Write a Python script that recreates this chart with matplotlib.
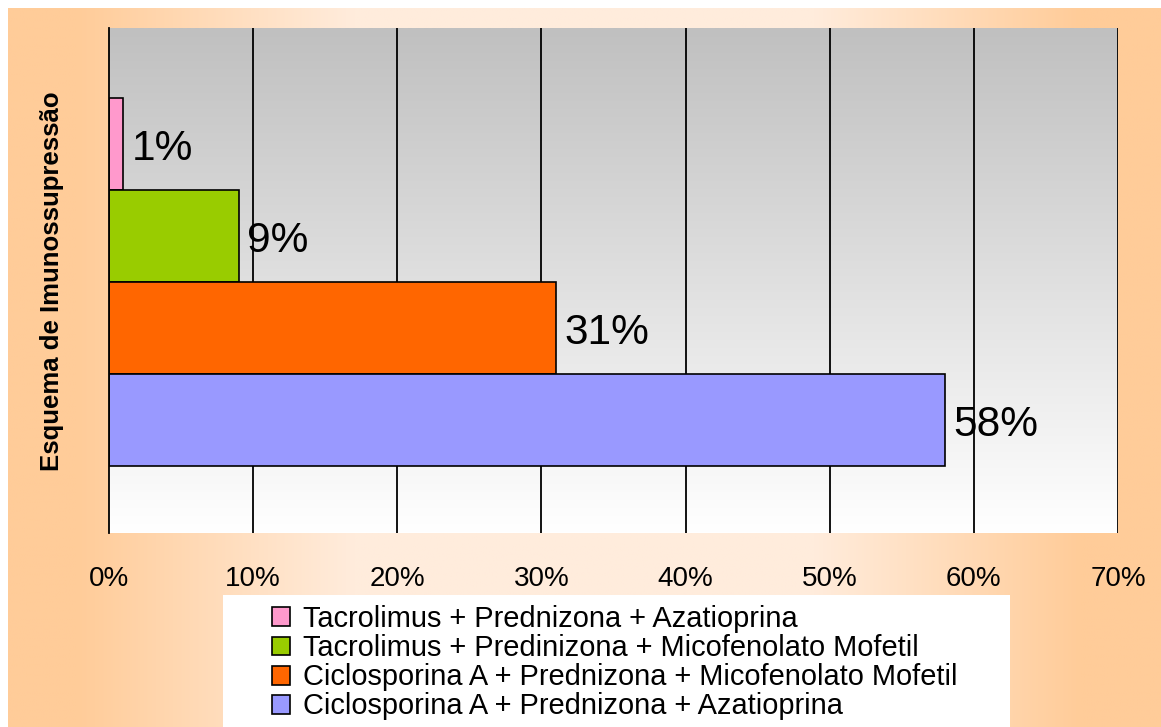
import numpy as np
import matplotlib
matplotlib.use("Agg")
import matplotlib.pyplot as plt
from matplotlib.patches import Rectangle

categories = ["Tacrolimus + Prednizona + Azatioprina",
              "Tacrolimus + Predinizona + Micofenolato Mofetil",
              "Ciclosporina A + Prednizona + Micofenolato Mofetil",
              "Ciclosporina A + Prednizona + Azatioprina"]
values = [1, 9, 31, 58]
labels = ["1%", "9%", "31%", "58%"]
colors = ["#FF99CC", "#99CC00", "#FF6600", "#9999FF"]
xticks = [0, 10, 20, 30, 40, 50, 60, 70]
xticklabels = ["0%", "10%", "20%", "30%", "40%", "50%", "60%", "70%"]
ylabel = "Esquema de Imunossupressão"

plt.rcParams['font.family'] = ['Liberation Sans', 'DejaVu Sans']

W, H = 1161, 727
fig = plt.figure(figsize=(W / 100, H / 100), dpi=100)
fig.patch.set_facecolor("white")

# background peach gradient
bg = fig.add_axes([8 / W, 0, 1 - 8 / W, 1 - 8 / H], zorder=-10)
bg.set_axis_off()
xs = np.linspace(0, 1, 600)
dark = np.array([255, 204, 153]) / 255
light = np.array([255, 236, 220]) / 255
t = np.interp(xs, [0, 0.06, 0.30, 0.70, 0.93, 1.0], [0, 0, 1, 1, 0, 0])
row = dark[None, :] * (1 - t[:, None]) + light[None, :] * t[:, None]
img = np.repeat(row[None, :, :], 10, axis=0)
bg.imshow(img, aspect="auto", extent=[0, 1, 0, 1], interpolation="bilinear")
bg.set_xlim(0, 1)
bg.set_ylim(0, 1)
# legend white box
bg.add_patch(Rectangle(((223 - 8) / (W - 8), 0), (1010 - 223) / (W - 8),
                       (727 - 595) / (H - 8), facecolor="white",
                       edgecolor="none", transform=bg.transAxes, zorder=5))

ax = fig.add_axes([109 / W, 1 - 533 / H, (1118 - 109) / W, (533 - 28) / H])
# gray gradient in plot area
g = np.linspace(192, 255, 256)[:, None] / 255
gimg = np.dstack([g, g, g])
ax.imshow(gimg, aspect="auto", extent=[0, 70, -1.23, 4.26], origin="upper",
          zorder=0, interpolation="bilinear")

ypos = [3, 2, 1, 0]
for y, v, c, lab in zip(ypos, values, colors, labels):
    ax.barh(y, v, height=1.0, color=c, edgecolor="black", linewidth=1.2, zorder=3)
    ax.annotate(lab, (v, y), xytext=(6, -4), textcoords="offset points",
                va="center", ha="left", fontsize=30.5, zorder=4)

ax.set_xlim(0, 70)
ax.set_ylim(-1.23, 4.26)
ax.set_xticks(xticks)
ax.set_xticklabels(xticklabels, fontsize=20)
ax.tick_params(axis="x", length=0, pad=24)
ax.set_yticks([])
for x in xticks[1:]:
    ax.axvline(x, color="black", linewidth=1.3, zorder=1)
for s in ["top", "right", "bottom"]:
    ax.spines[s].set_visible(False)
ax.spines["left"].set_linewidth(1.3)
ax.spines["left"].set_zorder(5)

fig.text(52 / W, 1 - 281 / H, ylabel, rotation=90, fontsize=18.5, fontweight="bold",
         ha="center", va="center")

handles = [Rectangle((0, 0), 1, 1, facecolor=c, edgecolor="black", linewidth=1.2)
           for c in colors]
leg = fig.legend(handles, categories, loc="upper left",
                 bbox_to_anchor=(272 / W, 1 - 605 / H), fontsize=20.9,
                 frameon=False, borderpad=0, labelspacing=0.04,
                 handlelength=0.62, handleheight=0.62, handletextpad=0.45,
                 borderaxespad=0)

fig.savefig("out.png", dpi=100)
